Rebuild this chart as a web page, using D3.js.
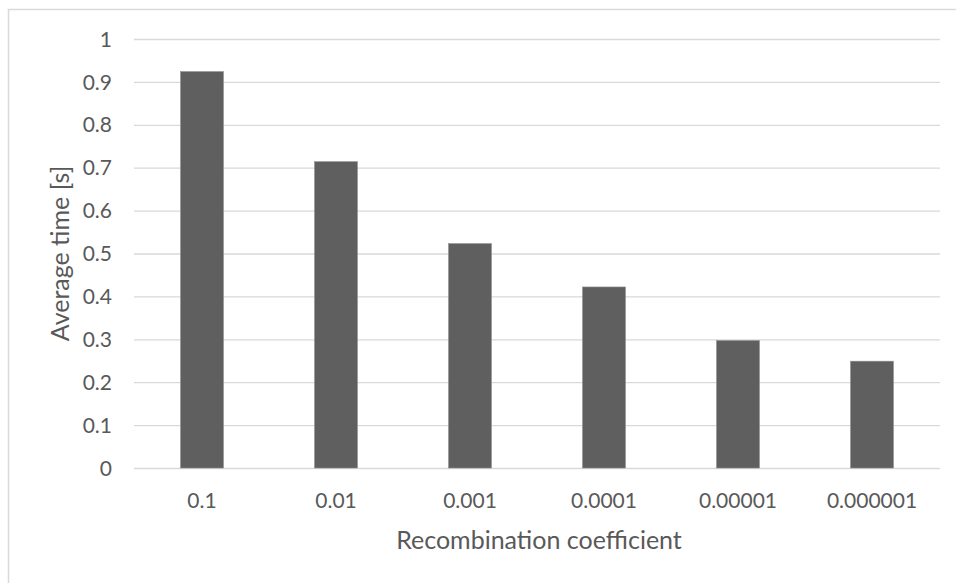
<!DOCTYPE html>
<html>
<head>
<meta charset="utf-8">
<script src="https://cdn.jsdelivr.net/npm/d3@7"></script>
<style>
  html, body { margin: 0; padding: 0; background: #fff; }
  svg { display: block; }
  text { font-family: Lato, "Open Sans", sans-serif; fill: #595959; }
</style>
</head>
<body>
<svg id="chart" width="956" height="583"></svg>
<script>
// Recombination coefficient vs. average run time
const categories = ["0.1", "0.01", "0.001", "0.0001", "0.00001", "0.000001"];
const averageTime = [0.924, 0.714, 0.523, 0.422, 0.297, 0.249];
const yTicks = [0, 0.1, 0.2, 0.3, 0.4, 0.5, 0.6, 0.7, 0.8, 0.9, 1];
const xTitle = "Recombination coefficient";
const yTitle = "Average time [s]";

const W = 956, H = 583;
const margin = { top: 39, right: 17, bottom: 115, left: 135 };
const plotW = W - margin.left - margin.right;
const plotH = H - margin.top - margin.bottom;

const svg = d3.select("#chart");

// chart frame
svg.append("rect")
  .attr("x", 8.5).attr("y", 9.5)
  .attr("width", W).attr("height", H)
  .attr("fill", "#fff")
  .attr("stroke", "#d9d9d9").attr("stroke-width", 1.5);

const g = svg.append("g").attr("transform", `translate(${margin.left},${margin.top})`);

const x = d3.scaleBand().domain(categories).range([0, plotW]).paddingInner(0.68).paddingOuter(0.34);
const y = d3.scaleLinear().domain([0, 1]).range([plotH, 0]);

// gridlines and value ticks
const yAxis = d3.axisLeft(y).tickValues(yTicks).tickSize(-plotW - 2)
  .tickFormat(d => d3.format("~g")(d));
const ya = g.append("g").attr("transform", "translate(-1,0)").call(yAxis);
ya.select(".domain").remove();
ya.selectAll(".tick line").attr("stroke", "#d9d9d9").attr("stroke-width", 1.3);
ya.selectAll(".tick text").attr("font-size", 21).attr("fill", "#595959")
  .attr("x", -22).attr("dy", "0.34em");

// bars
g.selectAll("rect.bar").data(categories).join("rect")
  .attr("class", "bar")
  .attr("x", d => x(d))
  .attr("width", x.bandwidth())
  .attr("y", (d, i) => y(averageTime[i]))
  .attr("height", (d, i) => plotH - y(averageTime[i]))
  .attr("fill", "#5f5f5f")
  .attr("stroke", "#8c8c8c").attr("stroke-width", 0.6);

// category labels
const xAxis = d3.axisBottom(x).tickSize(0).tickPadding(25);
const xa = g.append("g").attr("transform", `translate(0,${plotH})`).call(xAxis);
xa.select(".domain").remove();
xa.selectAll(".tick text").attr("font-size", 21).attr("fill", "#595959");

// axis titles
svg.append("text")
  .attr("x", margin.left + plotW / 2 + 2)
  .attr("y", 549)
  .attr("text-anchor", "middle")
  .attr("font-size", 25)
  .text(xTitle);

svg.append("text")
  .attr("transform", `translate(69,${margin.top + plotH / 2}) rotate(-90)`)
  .attr("text-anchor", "middle")
  .attr("font-size", 25)
  .text(yTitle);
</script>
</body>
</html>
